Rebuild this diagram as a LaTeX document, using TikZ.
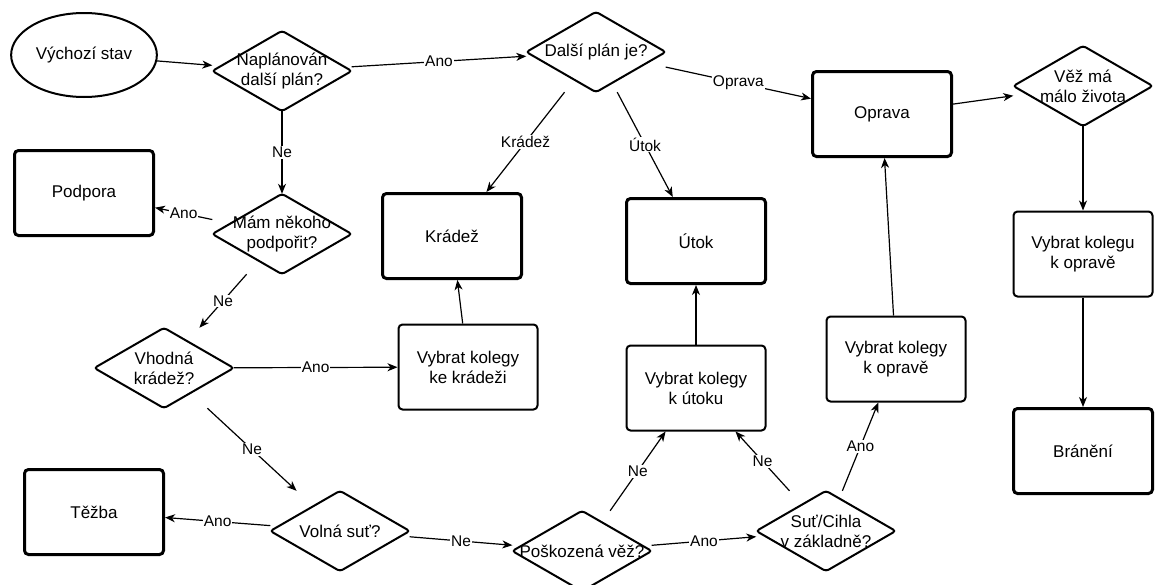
\documentclass[tikz,border=0pt]{standalone}
\usepackage{fontspec}
\setmainfont{Liberation Sans}
\usetikzlibrary{arrows.meta,shapes.geometric}

\begin{document}
\begin{tikzpicture}[x=1pt,y=-1pt,
 txt/.style={align=center,font=\fontsize{17}{20}\selectfont},
 box/.style={txt,draw,line width=2pt,rounded corners=4pt,minimum width=139pt,minimum height=85pt},
 bold/.style={box,line width=3pt},
 dec/.style={txt,inner sep=0pt,minimum width=139pt,minimum height=80pt},
 arr/.style={-{Stealth[length=10pt,width=8pt,inset=3pt]},line width=1.2pt},
 lab/.style={fill=white,inner sep=1pt,font=\fontsize{15.5}{18}\selectfont}]
\clip (0,0) rectangle (1157,584);
\node[txt,draw,ellipse,line width=2pt,minimum width=141pt,minimum height=84pt] (start) at (84,55) {Výchozí stav};
\node[dec] (plan) at (282,71) {Naplánován\\další plán?};
\node[bold] (podpora) at (84,193) {Podpora};
\node[dec] (mam) at (282,234) {Mám někoho\\podpořit?};
\node[dec] (dalsi) at (596,52) {Další plán je?};
\node[bold] (kradez) at (452,236) {Krádež};
\node[bold] (utok) at (696,241) {Útok};
\node[bold] (oprava) at (882,114) {Oprava};
\node[dec] (vez) at (1083,86) {Věž má\\málo života};
\node[box] (vkolegu) at (1083,254) {Vybrat kolegu\\k opravě};
\node[bold] (braneni) at (1083,451) {Bránění};
\node[box] (vkopr) at (896,359) {Vybrat kolegy\\k opravě};
\node[dec] (sut) at (826,531) {Suť/Cihla\\v základně?};
\node[dec] (vhodna) at (164,368) {Vhodná\\krádež?};
\node[box] (vkkradez) at (468,367) {Vybrat kolegy\\ke krádeži};
\node[box] (vkutok) at (696,388) {Vybrat kolegy\\k útoku};
\node[dec] (pozk) at (582,551) {Poškozená věž?};
\node[dec] (volna) at (340,531) {Volná suť?};
\node[bold] (tezba) at (94,512) {Těžba};
\foreach \d in {plan,mam,dalsi,vez,sut,vhodna,pozk,volna}
  \draw[line width=2pt,rounded corners=3pt] (\d.north)--(\d.east)--(\d.south)--(\d.west)--cycle;
\draw[arr] (start)--(plan);
\draw[arr] (plan)--node[lab]{Ano}(dalsi);
\draw[arr] (plan)--node[lab]{Ne}(mam);
\draw[arr] (mam)--node[lab]{Ano}(podpora);
\draw[arr] (mam)--node[lab]{Ne}(vhodna);
\draw[arr] (vhodna)--node[lab]{Ano}(vkkradez);
\draw[arr] (vkkradez)--(kradez);
\draw[arr] (vhodna)--node[lab]{Ne}(volna);
\draw[arr] (volna)--node[lab]{Ano}(tezba);
\draw[arr] (volna)--node[lab]{Ne}(pozk);
\draw[arr] (pozk)--node[lab]{Ne}(vkutok);
\draw[arr] (pozk)--node[lab]{Ano}(sut);
\draw[arr] (sut)--node[lab]{Ne}(vkutok);
\draw[arr] (sut)--node[lab]{Ano}(vkopr);
\draw[arr] (vkopr)--(oprava);
\draw[arr] (vkutok)--(utok);
\draw[arr] (dalsi)--node[lab]{Krádež}(kradez);
\draw[arr] (dalsi)--node[lab]{Útok}(utok);
\draw[arr] (dalsi)--node[lab]{Oprava}(oprava);
\draw[arr] (oprava)--(vez);
\draw[arr] (vez)--(vkolegu);
\draw[arr] (vkolegu)--(braneni);
\end{tikzpicture}
\end{document}
